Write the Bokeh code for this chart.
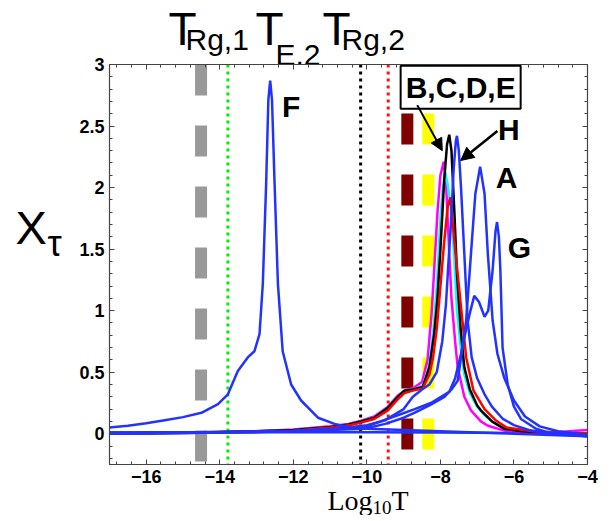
from bokeh.plotting import figure
from bokeh.layouts import column
from bokeh.models import Range1d, LinearAxis, Label, Arrow, NormalHead, FixedTicker
from bokeh.embed import file_html
from bokeh.resources import INLINE

# ---------------- data ----------------
vline_names = ["T_Rg1_gray", "T_green", "T_E2", "T_Rg2", "darkred", "yellow"]
vline_x = [-14.51, -13.78, -10.17, -9.42, -8.90, -8.33]

F_x = [-17, -16.5, -16, -15.5, -15, -14.5, -14.05, -13.78, -13.51, -13.24, -13.06, -12.92, -12.83,
       -12.74, -12.68, -12.63, -12.58, -12.51, -12.42, -12.29, -12.06, -11.79, -11.33, -10.88,
       -10.5, -10, -9, -8, -7, -6, -5, -4]
F_y = [0.05, 0.065, 0.085, 0.11, 0.135, 0.17, 0.24, 0.32, 0.51, 0.62, 0.67, 0.81, 1.22,
       2.03, 2.71, 2.87, 2.71, 2.03, 1.22, 0.67, 0.40, 0.27, 0.13, 0.08,
       0.055, 0.04, 0.03, 0.02, 0.01, 0.0, -0.01, -0.02]

flat_x = [-17, -14, -12, -10, -8, -6, -4]
flat_y = [0.01, 0.012, 0.013, 0.013, 0.01, 0.005, -0.01]

B_x = [-17, -15, -13, -12, -11, -10.5, -10.16, -9.8, -9.43, -9.16, -8.98, -8.75, -8.5, -8.35,
       -8.24, -8.17, -8.08, -8.0, -7.91, -7.85, -7.78, -7.7, -7.6, -7.53, -7.35, -7.17, -6.9,
       -6.71, -6.26, -5.5, -5, -4.5, -4]
B_y = [0.0, 0.01, 0.02, 0.035, 0.06, 0.08, 0.105, 0.14, 0.22, 0.31, 0.35, 0.37, 0.42, 0.6,
       0.98, 1.33, 1.8, 2.1, 2.21, 2.05, 1.6, 1.1, 0.75, 0.54, 0.3, 0.19, 0.1,
       0.065, 0.025, 0.01, 0.01, 0.02, 0.03]

C_x = [-17, -15, -13, -12, -11, -10.5, -10.16, -9.8, -9.43, -9.16, -8.98, -8.75, -8.48, -8.3,
       -8.17, -8.08, -8.0, -7.95, -7.87, -7.8, -7.7, -7.62, -7.55, -7.45, -7.35, -7.2, -7.0,
       -6.8, -6.5, -6.2, -5.5, -4]
C_y = [0.0, 0.008, 0.018, 0.03, 0.055, 0.075, 0.1, 0.13, 0.21, 0.3, 0.35, 0.36, 0.39, 0.56,
       0.9, 1.3, 1.75, 1.95, 2.12, 2.02, 1.8, 1.4, 1.0, 0.7, 0.48, 0.33, 0.22,
       0.15, 0.08, 0.04, 0.02, 0.0]

D_x = [-17, -15, -13, -12, -11, -10.5, -10.16, -9.8, -9.43, -9.16, -8.98, -8.75, -8.48, -8.3,
       -8.2, -8.1, -8.0, -7.9, -7.8, -7.73, -7.6, -7.44, -7.3, -7.1, -6.8, -6.5, -6.2, -5.5, -4]
D_y = [0.0, 0.006, 0.015, 0.025, 0.05, 0.068, 0.09, 0.12, 0.19, 0.28, 0.33, 0.35, 0.37, 0.48,
       0.62, 0.85, 1.2, 1.55, 1.85, 1.92, 1.5, 1.03, 0.62, 0.35, 0.2, 0.11, 0.05, 0.02, 0.0]

E_x = [-17, -16, -15, -14, -13, -12, -11, -10.5, -10.16, -9.8, -9.43, -9.16, -8.98, -8.75, -8.48,
       -8.3, -8.17, -8.08, -8.0, -7.9, -7.82, -7.76, -7.7, -7.62, -7.55, -7.45, -7.35, -7.2,
       -7.0, -6.9, -6.6, -6.26, -5.8, -5, -4]
E_y = [0.0, 0.005, 0.01, 0.015, 0.02, 0.03, 0.055, 0.075, 0.1, 0.13, 0.21, 0.3, 0.35, 0.36, 0.38,
       0.54, 0.81, 1.1, 1.5, 2.05, 2.35, 2.43, 2.3, 1.8, 1.3, 0.85, 0.54, 0.36,
       0.23, 0.19, 0.1, 0.04, 0.02, 0.01, 0.0]

H_x = [-17, -15, -13, -12, -11, -10.5, -10, -9.5, -9.0, -8.75, -8.5, -8.3, -8.1, -7.95, -7.85,
       -7.78, -7.71, -7.64, -7.58, -7.55, -7.5, -7.44, -7.35, -7.26, -7.15, -7.0, -6.8, -6.6,
       -6.3, -6.0, -5.6, -5, -4]
H_y = [0.0, 0.005, 0.015, 0.02, 0.035, 0.05, 0.07, 0.11, 0.2, 0.3, 0.36, 0.4, 0.5, 0.75, 1.05,
       1.4, 1.73, 2.15, 2.38, 2.42, 2.3, 2.0, 1.46, 0.92, 0.62, 0.45, 0.32, 0.22,
       0.12, 0.07, 0.03, 0.0, -0.02]

A_x = [-17, -14, -12, -11, -10.07, -9.5, -9, -8.71, -8.3, -7.89, -7.7, -7.53, -7.45, -7.35, -7.3,
       -7.17, -7.05, -6.92, -6.8, -6.71, -6.58, -6.45, -6.26, -6.0, -5.7, -5.3, -4.8, -4]
A_y = [0.0, 0.01, 0.02, 0.03, 0.04, 0.08, 0.13, 0.17, 0.23, 0.3, 0.36, 0.43, 0.6, 0.81, 0.92,
       1.46, 1.95, 2.17, 1.95, 1.46, 0.92, 0.65, 0.45, 0.27, 0.14, 0.06, 0.02, -0.01]

G_x = [-17, -14, -12, -11, -10, -9.16, -8.7, -8.26, -7.76, -7.6, -7.44, -7.3, -7.2, -7.08, -6.95,
       -6.8, -6.7, -6.58, -6.5, -6.46, -6.41, -6.37, -6.31, -6.17, -6.0, -5.81, -5.4, -5.08, -4]
G_y = [0.01, 0.015, 0.025, 0.04, 0.06, 0.15, 0.2, 0.25, 0.34, 0.45, 0.65, 0.85, 0.98, 1.12, 1.07,
       0.95, 1.0, 1.33, 1.65, 1.72, 1.6, 1.33, 0.7, 0.4, 0.22, 0.12, 0.04, 0.01, -0.02]

x_ticks = [-16, -14, -12, -10, -8, -6, -4]
y_ticks = [0, 0.5, 1, 1.5, 2, 2.5, 3]
y_tick_labels = ["0", "0.5", "1", "1.5", "2", "2.5", "3"]

W, H = 605, 515

# ---------------- background figure: texts outside the plot frame ----------------
bg = figure(width=W, height=H, output_backend="svg", toolbar_location=None,
            x_range=Range1d(0, W), y_range=Range1d(H, 0), x_axis_type=None, y_axis_type=None,
            min_border=0, min_border_left=0, min_border_right=0, min_border_top=0,
            min_border_bottom=0)
bg.frame_align = False
bg.grid.visible = False
bg.outline_line_color = None
bg.background_fill_color = "white"
bg.border_fill_color = "white"

def blab(px, py, t, size, font="Liberation Sans"):
    bg.add_layout(Label(x=px, y=py, text=t, text_font=font, text_font_size=size,
                        text_align="left", text_baseline="middle", text_color="black"))

blab(168, 28, "T", "46px")
blab(185, 38.5, "Rg,1", "30px")
blab(255, 28, "T", "46px")
blab(275, 53.5, "E,2", "30px")
blab(322, 28, "T", "46px")
blab(341, 38.5, "Rg,2", "30px")

blab(15, 227, "X", "47px")
blab(47, 243, "\u03c4", "36px")

blab(327, 500, "Log", "28px", font="Liberation Serif")
blab(372, 507, "10", "19px", font="Liberation Serif")
blab(391, 500, "T", "28px", font="Liberation Serif")

# ---------------- main figure ----------------
p = figure(width=W, height=H, output_backend="svg", toolbar_location=None,
           x_range=Range1d(-17, -4), y_range=Range1d(-0.25, 3),
           min_border_left=109, min_border_right=18, min_border_top=64, min_border_bottom=51)
p.frame_align = False
p.styles = {"margin-top": "-%dpx" % H}
p.grid.visible = False
p.outline_line_color = "#444444"
p.outline_line_width = 1.2
p.background_fill_color = "white"
p.border_fill_alpha = 0

x_minor = [round(-17 + 0.4 * i + 0.2, 2) for i in range(33)]
x_minor = [v for v in x_minor if -17 < v < -4 and v not in x_ticks]
y_minor = [round(-0.2 + 0.1 * i, 2) for i in range(33)]
y_minor = [v for v in y_minor if -0.25 < v < 3]

xt = FixedTicker(ticks=x_ticks, minor_ticks=x_minor)
yt = FixedTicker(ticks=y_ticks, minor_ticks=y_minor)

def style(ax):
    ax.axis_line_color = "#444444"
    ax.major_tick_line_color = "#444444"
    ax.minor_tick_line_color = "#444444"
    ax.major_tick_in = 5
    ax.major_tick_out = 0
    ax.minor_tick_in = 3
    ax.minor_tick_out = 0
    ax.major_label_text_font = "Liberation Sans"
    ax.major_label_text_font_style = "bold"
    ax.major_label_text_font_size = "18px"
    ax.major_label_text_color = "black"
    ax.major_label_standoff = 5

p.xaxis.ticker = xt
p.yaxis.ticker = yt
p.xaxis.major_label_overrides = {t: "\u2212" + str(abs(t)) for t in x_ticks}
p.yaxis.major_label_overrides = {t: l for t, l in zip(y_ticks, y_tick_labels)}
style(p.xaxis[0])
style(p.yaxis[0])
top = LinearAxis(ticker=xt)
right = LinearAxis(ticker=yt)
style(top)
style(right)
top.major_label_overrides = {t: "" for t in x_ticks}
right.major_label_overrides = {t: "" for t in y_ticks}
top.major_label_standoff = 0
right.major_label_standoff = 0
p.add_layout(top, "above")
p.add_layout(right, "right")

# vertical lines
ybot, ytop = -0.25, 3
p.line([vline_x[0]] * 2, [ytop, ybot], line_color="#999999", line_width=12, line_dash="31 30")
p.line([vline_x[1]] * 2, [ytop, ybot], line_color="#00ee00", line_width=3, line_dash="3 4")
p.line([vline_x[2]] * 2, [ytop, ybot], line_color="black", line_width=3, line_dash="3 4")
p.line([vline_x[3]] * 2, [ytop, ybot], line_color="#ff1010", line_width=3, line_dash="3 4")
p.line([vline_x[4]] * 2, [ytop, ybot], line_color="#800000", line_width=12, line_dash="31 30",
       line_dash_offset=12)
p.line([vline_x[5]] * 2, [ytop, ybot], line_color="#ffff00", line_width=12, line_dash="31 30",
       line_dash_offset=12)

# curves
blue = "#2233ff"
lw = 2.5
p.line(flat_x, flat_y, line_color=blue, line_width=lw)
p.line(B_x, B_y, line_color="#ff00ff", line_width=lw)
p.line(C_x, C_y, line_color="#00ffff", line_width=lw)
p.line(E_x, E_y, line_color="black", line_width=lw)
p.line(D_x, D_y, line_color="#ff0000", line_width=lw)
p.line(G_x, G_y, line_color=blue, line_width=lw)
p.line(A_x, A_y, line_color=blue, line_width=lw)
p.line(H_x, H_y, line_color=blue, line_width=lw)
p.line(F_x, F_y, line_color=blue, line_width=lw)

# in-frame annotations
def lab(x, y, t, size, **kw):
    p.add_layout(Label(x=x, y=y, text=t, text_font="Liberation Sans", text_font_size=size,
                       text_font_style="bold", text_align="center", text_baseline="middle",
                       text_color="black", **kw))

lab(-12.06, 2.66, "F", "30px")
lab(-6.2, 2.08, "A", "30px")
lab(-5.85, 1.51, "G", "30px")
lab(-6.14, 2.47, "H", "30px")
lab(-7.45, 2.815, "B,C,D,E", "30px", border_line_color="black", border_line_width=2,
    background_fill_color="white", padding=5)

p.add_layout(Arrow(end=NormalHead(size=13, fill_color="black", line_color="black"),
                   x_start=-6.45, y_start=2.46, x_end=-7.45, y_end=2.22,
                   line_width=2.5, line_color="black"))
p.add_layout(Arrow(end=NormalHead(size=12, fill_color="black", line_color="black"),
                   x_start=-8.63, y_start=2.67, x_end=-7.95, y_end=2.30,
                   line_width=2, line_color="black"))

layout = column(bg, p, spacing=0)
open("out.html", "w").write(file_html(layout, INLINE))
